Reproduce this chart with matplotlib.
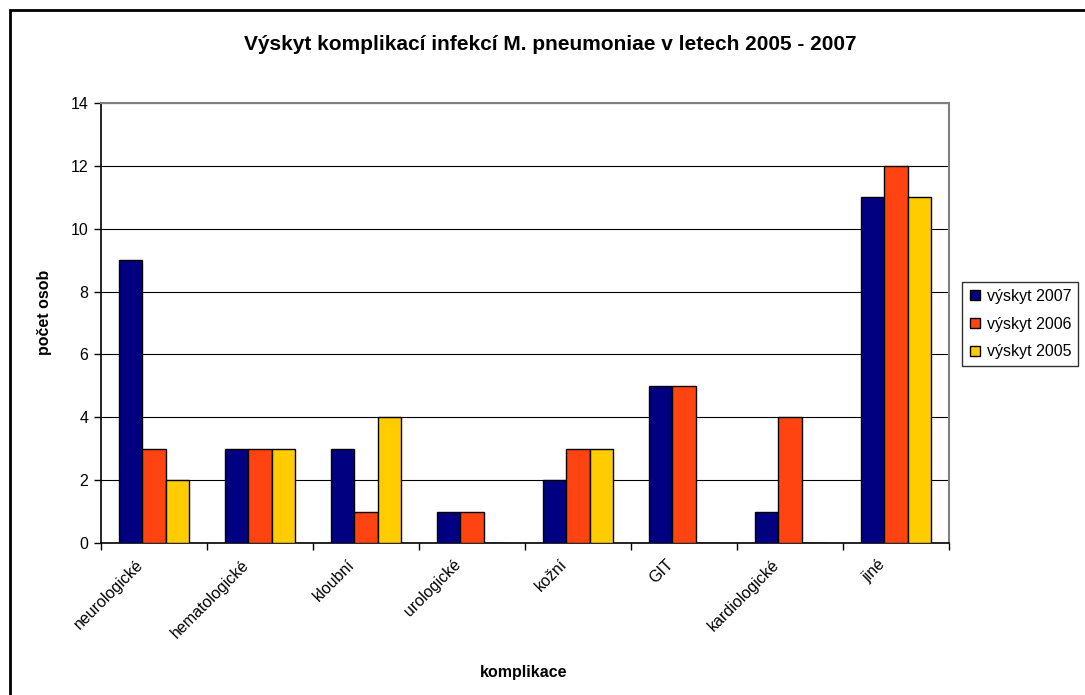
import matplotlib
matplotlib.use("Agg")
import matplotlib.pyplot as plt
import matplotlib.transforms as mtransforms
import numpy as np
from matplotlib.patches import Rectangle
from matplotlib.lines import Line2D

plt.rcParams['font.family'] = ['Liberation Sans', 'DejaVu Sans']

categories = ["neurologické", "hematologické", "kloubní", "urologické",
              "kožní", "GIT", "kardiologické", "jiné"]
vyskyt_2007 = [9, 3, 3, 1, 2, 5, 1, 11]
vyskyt_2006 = [3, 3, 1, 1, 3, 5, 4, 12]
vyskyt_2005 = [2, 3, 4, 0, 3, 0, 0, 11]
series_names = ["výskyt 2007", "výskyt 2006", "výskyt 2005"]
colors = ["#000080", "#FF4411", "#FFCC00"]
yticks = [0, 2, 4, 6, 8, 10, 12, 14]

W, H = 1085, 695
fig = plt.figure(figsize=(W / 100, H / 100), dpi=100)
fig.patch.set_facecolor("white")

# outer chart border
fig.add_artist(Rectangle((10 / W, -0.1), 1.2, 1 - 10 / H + 0.1, transform=fig.transFigure,
                         fill=False, edgecolor="black", linewidth=2))

left, right, top, bottom = 101, 949, 103, 543
ax = fig.add_axes([left / W, 1 - bottom / H, (right - left) / W, (bottom - top) / H])

n = len(categories)
x = np.arange(n)
bw = 0.22
for i, (vals, c) in enumerate(zip([vyskyt_2007, vyskyt_2006, vyskyt_2005], colors)):
    ax.bar(x + (i - 1) * bw, vals, width=bw, color=c, edgecolor="black", linewidth=1.0, zorder=3)

ax.set_xlim(-0.5, n - 0.5)
ax.set_ylim(0, 14)
ax.set_yticks(yticks)
ax.set_yticklabels([str(t) for t in yticks], fontsize=11.5)
ax.yaxis.grid(True, color="black", linewidth=0.8, zorder=0)
ax.set_axisbelow(True)

ax.set_xticks(np.arange(-0.5, n, 1.0))
ax.set_xticklabels([])
ax.set_xticks(x, minor=True)
ax.set_xticklabels(categories, minor=True, rotation=45, ha="right", va="top", fontsize=11.5)
ax.tick_params(axis="x", which="minor", length=0, pad=10)
ax.tick_params(axis="x", which="major", length=5, width=1, direction="out")
ax.tick_params(axis="y", length=5, width=1, direction="out", pad=4)
offset = mtransforms.ScaledTranslation(-8 / 100, 0, fig.dpi_scale_trans)
for lbl in ax.get_xticklabels(minor=True):
    lbl.set_transform(lbl.get_transform() + offset)

for s in ["top", "right"]:
    ax.spines[s].set_color("#808080")
    ax.spines[s].set_linewidth(1.5)
for s in ["left", "bottom"]:
    ax.spines[s].set_color("black")
    ax.spines[s].set_linewidth(1.2)

fig.text(45 / W, 1 - 312 / H, "počet osob", fontsize=11.5, fontweight="bold",
         ha="center", va="center", rotation=90)
fig.text(524 / W, 1 - 672 / H, "komplikace", fontsize=11.5, fontweight="bold",
         ha="center", va="center")
fig.text(550 / W, 1 - 44 / H, "Výskyt komplikací infekcí M. pneumoniae v letech 2005 - 2007",
         fontsize=15, fontweight="bold", ha="center", va="center")

handles = [Line2D([0], [0], marker="s", linestyle="none", markersize=7,
                  markerfacecolor=c, markeredgecolor="black", markeredgewidth=1)
           for c in colors]
leg = fig.legend(handles, series_names, loc="center left",
                 bbox_to_anchor=(962 / W, 1 - 324 / H), fontsize=11.5,
                 frameon=True, fancybox=False, edgecolor="black",
                 handlelength=0.7, handletextpad=0.4, borderpad=0.45,
                 labelspacing=0.8, borderaxespad=0)
leg.get_frame().set_linewidth(1.0)

fig.savefig("out.png", dpi=100)
